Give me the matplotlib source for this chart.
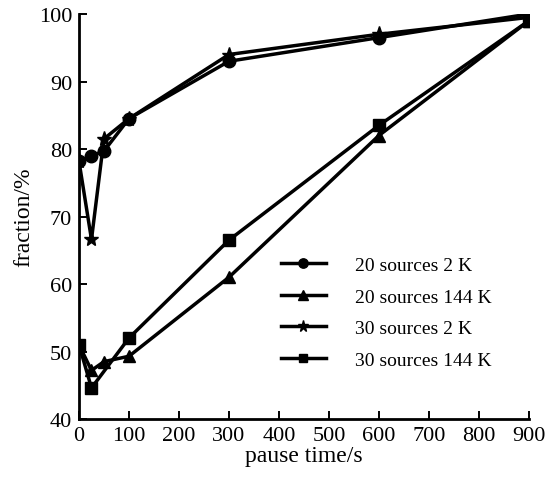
import matplotlib
matplotlib.use("Agg")
import matplotlib.pyplot as plt

plt.rcParams['font.family'] = ['Liberation Serif', 'DejaVu Serif']

# Data
x_c20_2k = [0, 25, 50, 100, 300, 600, 900]
y_c20_2k = [78.2, 79.0, 79.7, 84.5, 93.0, 96.5, 100.0]

x_c20_144k = [0, 25, 50, 100, 300, 600, 900]
y_c20_144k = [51.0, 47.2, 48.5, 49.3, 61.0, 82.0, 99.0]

x_c30_2k = [0, 25, 50, 100, 300, 600, 900]
y_c30_2k = [78.2, 66.6, 81.5, 84.5, 94.0, 97.0, 99.5]

x_c30_144k = [0, 25, 100, 300, 600, 900]
y_c30_144k = [51.0, 44.6, 52.0, 66.5, 83.5, 99.0]

labels = ["20 sources 2 K", "20 sources 144 K", "30 sources 2 K", "30 sources 144 K"]
xticks = [0, 100, 200, 300, 400, 500, 600, 700, 800, 900]
yticks = [40, 50, 60, 70, 80, 90, 100]

fig = plt.figure(figsize=(5.5, 4.81), dpi=100)
ax = fig.add_axes([0.1436, 0.1268, 0.818, 0.842])

lw = 2.5
ax.plot(x_c20_2k, y_c20_2k, color='black', lw=lw, marker='o', ms=9, label=labels[0])
ax.plot(x_c20_144k, y_c20_144k, color='black', lw=lw, marker='^', ms=9, label=labels[1])
ax.plot(x_c30_2k, y_c30_2k, color='black', lw=lw, marker='*', ms=11, label=labels[2])
ax.plot(x_c30_144k, y_c30_144k, color='black', lw=lw, marker='s', ms=8, label=labels[3])

ax.set_xlim(0, 900)
ax.set_ylim(40, 100)
ax.set_xticks(xticks)
ax.set_yticks(yticks)
ax.spines['top'].set_visible(False)
ax.spines['right'].set_visible(False)
for s in ['left', 'bottom']:
    ax.spines[s].set_linewidth(2.0)
ax.tick_params(direction='in', length=6, width=1.4, labelsize=16, pad=5)
ax.set_xlabel("pause time/s", fontsize=17, labelpad=0)
ax.set_ylabel("fraction/%", fontsize=17, labelpad=3)

leg = ax.legend(loc='upper left', bbox_to_anchor=(0.41, 0.445), frameon=False,
                fontsize=14, handlelength=2.3, handletextpad=1.5,
                labelspacing=0.72, markerscale=0.75)

fig.savefig("out.png", dpi=100)
